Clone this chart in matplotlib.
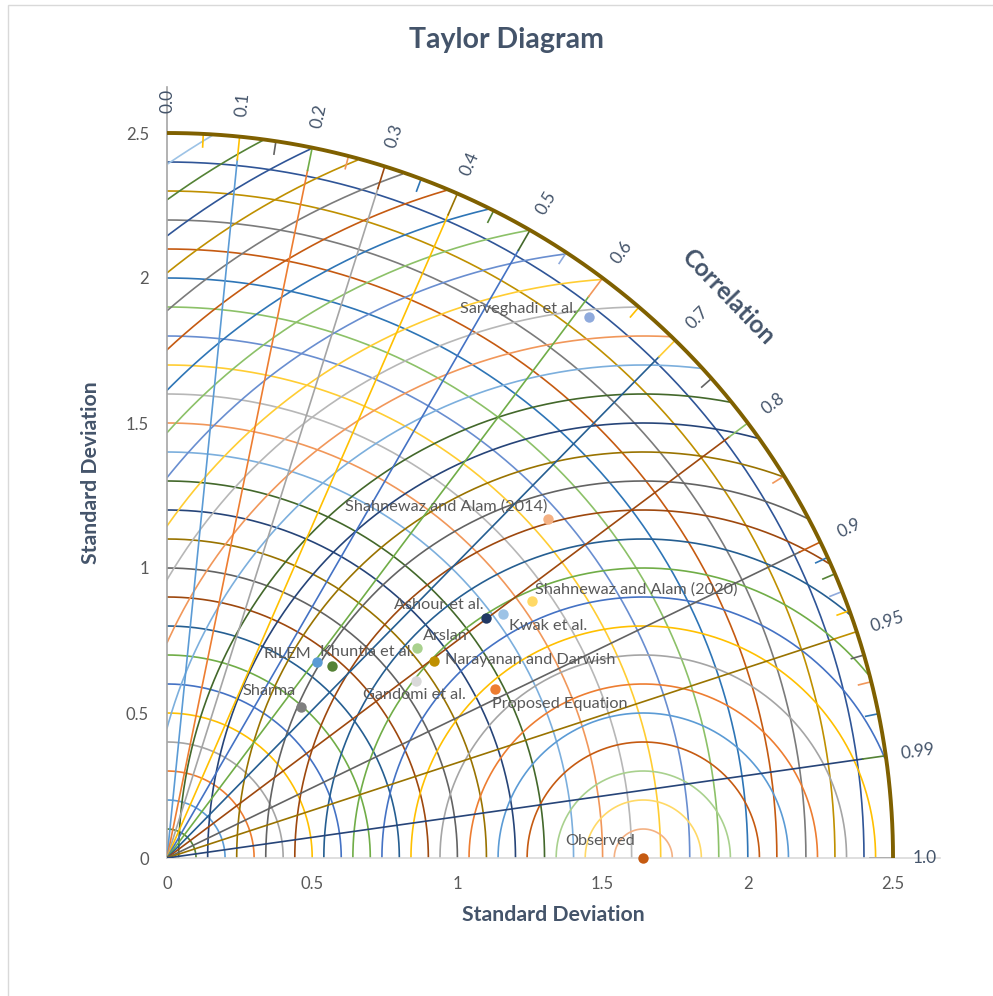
import numpy as np
import matplotlib
matplotlib.use('Agg')
import matplotlib.pyplot as plt
from matplotlib.patches import Rectangle

plt.rcParams['font.family'] = ['Lato', 'DejaVu Sans']

# Data
obs_std = 1.64
max_std = 2.5
models = ['Observed', 'Sarveghadi et al.', 'Shahnewaz and Alam (2014)',
          'Shahnewaz and Alam (2020)', 'Kwak et al.', 'Ashour et al.', 'Arslan',
          'Narayanan and Darwish', 'Khuntia et al.', 'RILEM', 'Sharma',
          'Gandomi et al.', 'Proposed Equation']
std_dev = [1.64, 2.364, 1.756, 1.537, 1.431, 1.375, 1.127, 1.143, 0.872, 0.852,
           0.697, 1.052, 1.271]
corr = [1.0, 0.615, 0.747, 0.817, 0.809, 0.799, 0.765, 0.804, 0.650, 0.608,
        0.662, 0.814, 0.889]

std_levels = [round(0.1 * k, 1) for k in range(1, 25)]
rms_levels = [round(0.1 * k, 1) for k in range(1, 30)]
corr_major = [0.1, 0.2, 0.3, 0.4, 0.5, 0.6, 0.7, 0.8, 0.9, 0.95, 0.99]
corr_minor = [0.05, 0.15, 0.25, 0.35, 0.45, 0.55, 0.65, 0.75, 0.85,
              0.91, 0.92, 0.93, 0.94, 0.96, 0.97, 0.98]
corr_ticklabels = ['0.0', '0.1', '0.2', '0.3', '0.4', '0.5', '0.6', '0.7',
                   '0.8', '0.9', '0.95', '0.99', '1.0']
axis_ticks = [0, 0.5, 1, 1.5, 2, 2.5]
axis_ticklabels = ['0', '0.5', '1', '1.5', '2', '2.5']

# styling
office = ['#5B9BD5', '#ED7D31', '#A5A5A5', '#FFC000', '#4472C4', '#70AD47',
          '#255E91', '#9E480E', '#636363', '#997300', '#264478', '#43682B',
          '#7CAFDD', '#F1975A', '#B7B7B7', '#FFCD33', '#698ED0', '#8CC168',
          '#2E75B6', '#C55A11', '#7B7B7B', '#BF9000', '#2F5597', '#548235',
          '#9DC3E6', '#F4B183', '#C9C9C9', '#FFD966', '#8FAADC', '#A9D18E']
point_colors = ['#C55A11', '#8FAADC', '#F4B183', '#FFD966', '#9DC3E6', '#203864',
                '#A9D18E', '#BF9000', '#548235', '#5B9BD5', '#7F7F7F', '#D9D9D9',
                '#ED7D31']
# label offsets in pixels + alignment
label_pos = [(-43, 17, 'center'), (-12, 8, 'right'), (-1, 13, 'right'),
             (3, 11, 'left'), (6, -12, 'left'), (-2, 13, 'right'),
             (6, 12, 'left'), (11, 1, 'left'), (-12, 14, 'left'),
             (-6, 8, 'right'), (-5, 16, 'right'), (-1, -14, 'center'),
             (-3, -15, 'left')]
txt_col = '#595959'
head_col = '#44546A'
lw = 1.2

fig = plt.figure(figsize=(9.93, 9.96), dpi=100)
ax = fig.add_axes([167 / 993, 138 / 996, 772.5 / 993, 771.4 / 996])
ax.set_xlim(0, 2.66)
ax.set_ylim(0, 2.66)

# std dev arcs (centered on origin)
th = np.linspace(0, np.pi / 2, 400)
for i, r in enumerate(std_levels):
    col = '#548235' if i == 0 else office[(i - 1) % len(office)]
    ax.plot(r * np.cos(th), r * np.sin(th), color=col, lw=lw, zorder=2)

# RMS arcs (centered on the observed point), clipped to the quadrant
phi = np.linspace(0, np.pi, 2000)
rms_cols = ['#F4B183', '#FFD966', '#A9D18E', '#C55A11'] + office
for i, r in enumerate(rms_levels):
    x = obs_std + r * np.cos(phi)
    y = r * np.sin(phi)
    bad = (x < 0) | (x ** 2 + y ** 2 > (max_std - 0.005) ** 2)
    x = np.where(bad, np.nan, x)
    y = np.where(bad, np.nan, y)
    ax.plot(x, y, color=rms_cols[i % len(rms_cols)], lw=lw, zorder=2)

# correlation lines and ticks
for i, c in enumerate(corr_major):
    a = np.arccos(c)
    ax.plot([0, 2.42 * np.cos(a)], [0, 2.42 * np.sin(a)], color=office[i],
            lw=lw, zorder=3)
    tc = office[(i * 2 + 3) % len(office)]
    ax.plot([2.42 * np.cos(a), max_std * np.cos(a)],
            [2.42 * np.sin(a), max_std * np.sin(a)], color=tc, lw=lw, zorder=3)
for i, c in enumerate(corr_minor):
    a = np.arccos(c)
    tc = office[(i * 5 + 3) % len(office)]
    ax.plot([2.455 * np.cos(a), max_std * np.cos(a)],
            [2.455 * np.sin(a), max_std * np.sin(a)], color=tc, lw=lw, zorder=3)
ax.plot([2.42, max_std], [0, 0], color='#A5A5A5', lw=lw, zorder=3)

# outer circle
ax.plot(max_std * np.cos(th), max_std * np.sin(th), color='#7F6000', lw=2.8,
        zorder=4, solid_capstyle='butt')

# correlation labels
corr_vals = [0.0] + corr_major + [1.0]
for c, lab in zip(corr_vals, corr_ticklabels):
    a = np.arccos(c)
    ax.text(2.61 * np.cos(a), 2.61 * np.sin(a), lab, rotation=np.degrees(a),
            rotation_mode='anchor', ha='center', va='center', fontsize=12.5,
            color=head_col, clip_on=False)
ax.text(1.93, 1.935, 'Correlation', rotation=-46, rotation_mode='anchor',
        ha='center', va='center', fontsize=17.5, fontweight='bold',
        color=head_col, clip_on=False)

# model points
for i, name in enumerate(models):
    a = np.arccos(corr[i])
    px, py = std_dev[i] * np.cos(a), std_dev[i] * np.sin(a)
    ax.plot(px, py, 'o', ms=7.5, color=point_colors[i], mec='none', zorder=6,
            clip_on=False)
    dx, dy, ha = label_pos[i]
    ax.annotate(name, (px, py), xytext=(dx, dy), textcoords='offset pixels',
                ha=ha, va='center', fontsize=11.7, color=txt_col, zorder=7)

# axes styling
for s in ['top', 'right']:
    ax.spines[s].set_visible(False)
ax.spines['left'].set_color('#A6A6A6')
ax.spines['bottom'].set_color('#D9D9D9')
ax.spines['left'].set_linewidth(1.2)
ax.spines['bottom'].set_linewidth(1.2)
ax.set_xticks(axis_ticks)
ax.set_xticklabels(axis_ticklabels)
ax.set_yticks(axis_ticks)
ax.set_yticklabels(axis_ticklabels)
ax.tick_params(axis='both', length=0, labelsize=12, labelcolor=txt_col)
ax.tick_params(axis='x', pad=13)
ax.tick_params(axis='y', pad=13)
ax.set_xlabel('Standard Deviation', fontsize=15.3, fontweight='bold',
              color=head_col, labelpad=9)
ax.set_ylabel('Standard Deviation', fontsize=15.3, fontweight='bold',
              color=head_col, labelpad=18)
ax.patch.set_visible(False)

fig.text(506 / 993, 1 - 40 / 996, 'Taylor Diagram', ha='center', va='center',
         fontsize=20.5, fontweight='bold', color=head_col)

# chart border
fig.add_artist(Rectangle((8 / 993, -0.02), 1.1, 1.02 - 5 / 996,
                         transform=fig.transFigure, fill=False,
                         edgecolor='#D9D9D9', lw=1))

fig.savefig('out.png', dpi=100, facecolor='white')
